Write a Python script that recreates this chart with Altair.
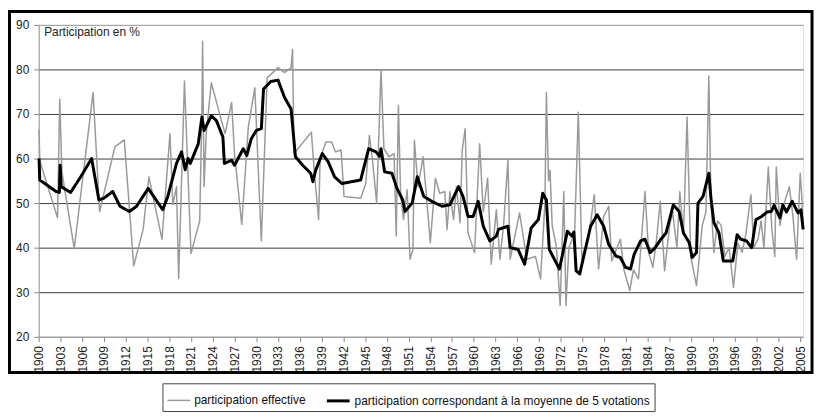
import altair as alt
import pandas as pd

# ---- data ----
gray_year = [1900.05, 1900.15, 1901.2, 1902.6, 1902.9, 1903.2, 1904.9, 1907.5, 1908.4, 1910.5,
             1911.8, 1913.1, 1914.4, 1915.2, 1917.0, 1918.1, 1918.5, 1919.0, 1919.3, 1920.1,
             1921.0, 1922.2, 1922.5, 1922.6, 1922.8, 1923.1, 1923.8, 1925.2, 1925.7, 1926.6,
             1927.0, 1928.0, 1928.9, 1929.8, 1930.7, 1931.5, 1933.0, 1933.9, 1934.8, 1935.0,
             1935.2, 1937.6, 1938.0, 1938.6, 1938.8, 1939.6, 1940.4, 1940.9, 1941.7, 1942.1,
             1944.4, 1945.1, 1945.6, 1946.0, 1946.6, 1947.2, 1947.6, 1948.3, 1949.0, 1949.3,
             1949.6, 1949.9, 1950.3, 1950.8, 1951.2, 1951.6, 1951.8, 1952.3, 1953.0, 1954.0,
             1954.7, 1955.3, 1956.0, 1956.3, 1956.7, 1957.2, 1957.6, 1958.1, 1958.4, 1958.8,
             1959.2, 1960.1, 1960.8, 1961.3, 1961.9, 1962.4, 1963.1, 1963.6, 1964.1, 1964.7,
             1965.0, 1966.3, 1967.3, 1968.5, 1969.2, 1969.8, 1970.0, 1970.3, 1970.5, 1970.8,
             1971.4, 1971.9, 1972.4, 1972.7, 1973.1, 1973.9, 1974.4, 1974.9, 1975.9, 1976.6,
             1977.2, 1977.9, 1978.6, 1979.0, 1980.2, 1980.7, 1981.5, 1982.0, 1982.7, 1983.6,
             1984.1, 1984.7, 1985.2, 1985.7, 1986.3, 1987.0, 1987.4, 1988.0, 1988.4, 1988.9,
             1989.4, 1989.9, 1990.7, 1991.5, 1992.0, 1992.4, 1992.7, 1993.1, 1993.6, 1994.1,
             1994.6, 1995.2, 1995.8, 1996.4, 1997.0, 1997.5, 1998.2, 1998.6, 1999.2, 1999.6,
             2000.0, 2000.6, 2001.1, 2001.5, 2001.7, 2002.2, 2002.8, 2003.5, 2004.0, 2004.5,
             2005.0, 2005.2, 2005.4]
gray_val = [66.5, 59.5, 54.0, 46.7, 73.3, 57.0, 39.8, 74.8, 48.1, 62.6,
            64.2, 35.9, 44.1, 55.9, 41.9, 65.6, 49.6, 53.7, 33.0, 77.4,
            38.7, 46.0, 70.7, 86.3, 53.7, 65.6, 77.0, 68.5, 65.6, 72.6,
            61.1, 45.2, 67.0, 75.9, 41.5, 78.1, 80.4, 79.3, 80.4, 84.5,
            61.1, 65.9, 57.0, 46.3, 60.0, 63.7, 63.7, 61.5, 61.9, 51.5,
            51.1, 54.4, 65.2, 60.0, 50.0, 80.0, 62.2, 60.4, 61.1, 42.6,
            71.9, 52.0, 46.3, 53.0, 37.4, 39.6, 64.1, 53.7, 60.4, 41.1,
            55.6, 52.2, 52.6, 44.1, 52.6, 46.3, 53.7, 45.6, 61.9, 66.7,
            43.3, 38.9, 63.3, 48.0, 55.6, 36.3, 48.5, 37.4, 45.0, 59.6,
            37.4, 47.8, 37.4, 38.0, 33.0, 50.0, 74.8, 55.0, 57.4, 45.0,
            40.0, 27.0, 52.6, 27.0, 40.0, 43.3, 70.4, 37.4, 43.0, 51.9,
            35.2, 47.0, 49.3, 37.0, 41.9, 35.0, 30.4, 35.0, 33.0, 52.6,
            38.9, 35.6, 42.0, 50.4, 34.8, 45.0, 48.0, 40.0, 52.6, 43.0,
            69.3, 38.0, 31.5, 45.0, 48.0, 78.5, 50.0, 38.9, 46.0, 45.0,
            38.0, 40.0, 31.1, 41.0, 39.0, 43.0, 51.9, 40.0, 42.0, 46.0,
            40.0, 58.1, 44.0, 38.0, 58.1, 45.0, 50.0, 53.7, 47.0, 37.4,
            56.7, 52.0, 44.0]

black_year = [1900.05, 1900.15, 1902.4, 1902.85, 1902.96, 1903.1, 1904.4, 1905.8, 1907.3, 1908.3,
              1909.0, 1910.2, 1911.2, 1912.5, 1913.5, 1915.1, 1917.1, 1917.8, 1919.0, 1919.7,
              1920.2, 1920.6, 1920.9, 1922.0, 1922.5, 1922.8, 1923.8, 1924.5, 1925.4, 1925.6,
              1926.6, 1927.0, 1928.2, 1928.7, 1929.3, 1930.0, 1930.7, 1931.0, 1932.0, 1933.0,
              1933.9, 1934.8, 1935.4, 1936.4, 1937.5, 1937.8, 1938.2, 1939.1, 1939.9, 1940.8,
              1941.8, 1944.4, 1945.5, 1946.5, 1947.0, 1947.2, 1947.7, 1948.7, 1949.4, 1950.2,
              1950.5, 1951.5, 1952.2, 1953.1, 1954.2, 1955.6, 1956.7, 1957.9, 1958.5, 1959.2,
              1959.9, 1960.6, 1961.3, 1962.2, 1963.1, 1963.4, 1964.7, 1965.0, 1966.1, 1967.0,
              1967.9, 1968.9, 1969.5, 1970.0, 1970.4, 1971.8, 1972.9, 1973.5, 1973.8, 1974.1,
              1974.6, 1976.1, 1977.0, 1977.9, 1978.6, 1979.6, 1980.2, 1980.9, 1981.6, 1982.1,
              1983.0, 1983.6, 1984.3, 1985.0, 1985.8, 1986.5, 1987.5, 1988.3, 1988.9, 1989.7,
              1990.1, 1990.7, 1990.9, 1991.6, 1992.4, 1992.7, 1993.1, 1993.8, 1994.4, 1995.7,
              1996.3, 1996.8, 1997.6, 1998.3, 1998.9, 1999.7, 2000.4, 2001.0, 2001.4, 2002.2,
              2002.6, 2003.1, 2003.9, 2004.7, 2005.1, 2005.4]
black_val = [60.0, 55.2, 52.6, 52.4, 58.5, 53.7, 52.4, 55.9, 60.0, 50.7,
             51.1, 52.6, 49.3, 48.1, 49.3, 53.3, 48.5, 51.5, 58.9, 61.5,
             57.5, 60.0, 58.9, 63.3, 69.3, 66.3, 69.6, 68.5, 64.8, 58.9,
             59.6, 58.5, 62.2, 60.7, 64.4, 66.3, 66.7, 75.6, 77.3, 77.6,
             73.7, 71.1, 60.4, 58.5, 56.7, 54.8, 57.4, 61.1, 59.3, 55.9,
             54.4, 55.2, 62.2, 61.5, 60.5, 62.2, 57.0, 56.7, 53.3, 50.7,
             48.1, 50.0, 55.9, 51.5, 50.4, 49.3, 49.6, 53.7, 51.5, 47.0,
             47.0, 50.4, 44.8, 41.5, 42.6, 44.1, 44.8, 40.0, 39.6, 36.3,
             44.4, 46.3, 52.2, 50.7, 39.6, 35.2, 43.7, 42.6, 43.5, 34.8,
             34.1, 44.8, 47.4, 44.8, 40.7, 38.1, 37.8, 35.6, 35.2, 38.5,
             41.5, 41.9, 38.9, 40.0, 41.9, 43.3, 49.6, 48.1, 43.3, 41.1,
             37.8, 38.9, 50.0, 51.5, 56.7, 51.0, 45.6, 43.3, 37.0, 37.0,
             42.9, 41.9, 41.5, 40.0, 46.3, 47.0, 48.0, 48.1, 49.5, 46.7,
             49.6, 48.0, 50.4, 47.8, 48.5, 44.1]

series_names = ["participation effective",
                "participation correspondant à la moyenne de 5 votations"]
year_ticks = list(range(1900, 2006, 3))
value_ticks = [20, 30, 40, 50, 60, 70, 80, 90]

gray_df = pd.DataFrame({"year": gray_year, "val": gray_val, "series": series_names[0]})
black_df = pd.DataFrame({"year": black_year, "val": black_val, "series": series_names[1]})

FONT = "Liberation Sans"

x_enc = alt.X("year:Q",
              scale=alt.Scale(domain=[1900, 2005.4], nice=False, zero=False),
              axis=alt.Axis(values=year_ticks, format="d", labelAngle=-90, labelFontSize=12,
                            labelFont=FONT, labelColor="#222", tickSize=5, labelPadding=4,
                            tickColor="#888", domainColor="#999", grid=False, title=None,
                            labelOverlap=False, labelFlush=False, labelBound=False))
y_enc = alt.Y("val:Q",
              scale=alt.Scale(domain=[20, 90], nice=False, zero=False),
              axis=alt.Axis(values=value_ticks, labelFontSize=12, labelFont=FONT,
                            labelColor="#222", tickSize=5, labelPadding=5, tickColor="#888",
                            domainColor="#999",
                            gridColor={"condition": {"test": "datum.value === 90 || datum.value === 20",
                                                     "value": "#999999"},
                                       "value": "#3a3a3a"},
                            gridWidth=1,
                            title="Participation en %", titleAngle=0, titleAlign="left",
                            titleBaseline="middle", titleX=5, titleY=7, titleFontSize=12,
                            titleFont=FONT, titleFontWeight="normal", titleColor="#222"))

color_scale = alt.Scale(domain=series_names, range=["#9a9a9a", "#000000"])
width_scale = alt.Scale(domain=series_names, range=[1.5, 3])

legend = alt.Legend(orient="none", legendX=125, legendY=362, direction="horizontal",
                    title=None, strokeColor="#444", padding=4, symbolType="stroke",
                    symbolSize=530, labelFontSize=12, labelFont=FONT, labelColor="#111",
                    columnPadding=14, labelOffset=3, labelLimit=0)

gray_line = alt.Chart(gray_df).mark_line(strokeJoin="round").encode(
    x=x_enc, y=y_enc,
    color=alt.Color("series:N", scale=color_scale, legend=legend),
    strokeWidth=alt.StrokeWidth("series:N", scale=width_scale, legend=legend),
)
black_line = alt.Chart(black_df).mark_line(strokeJoin="round").encode(
    x=x_enc, y=y_enc,
    color=alt.Color("series:N", scale=color_scale, legend=legend),
    strokeWidth=alt.StrokeWidth("series:N", scale=width_scale, legend=legend),
)

frame = alt.Chart(pd.DataFrame({"a": [0]})).mark_rect(
    filled=False, stroke="black", strokeWidth=3
).encode(x=alt.value(-29.5), x2=alt.value(781), y=alt.value(-13.5), y2=alt.value(351))

chart = alt.layer(gray_line, black_line, frame).properties(
    width=772, height=315,
    autosize=alt.AutoSizeParams(type="none"),
    padding={"left": 31, "top": 15, "right": 12, "bottom": 80},
).configure_view(stroke="#999999", strokeWidth=1).configure(background="white")

chart.save("out.html", embed_options={"renderer": "svg", "actions": False})
